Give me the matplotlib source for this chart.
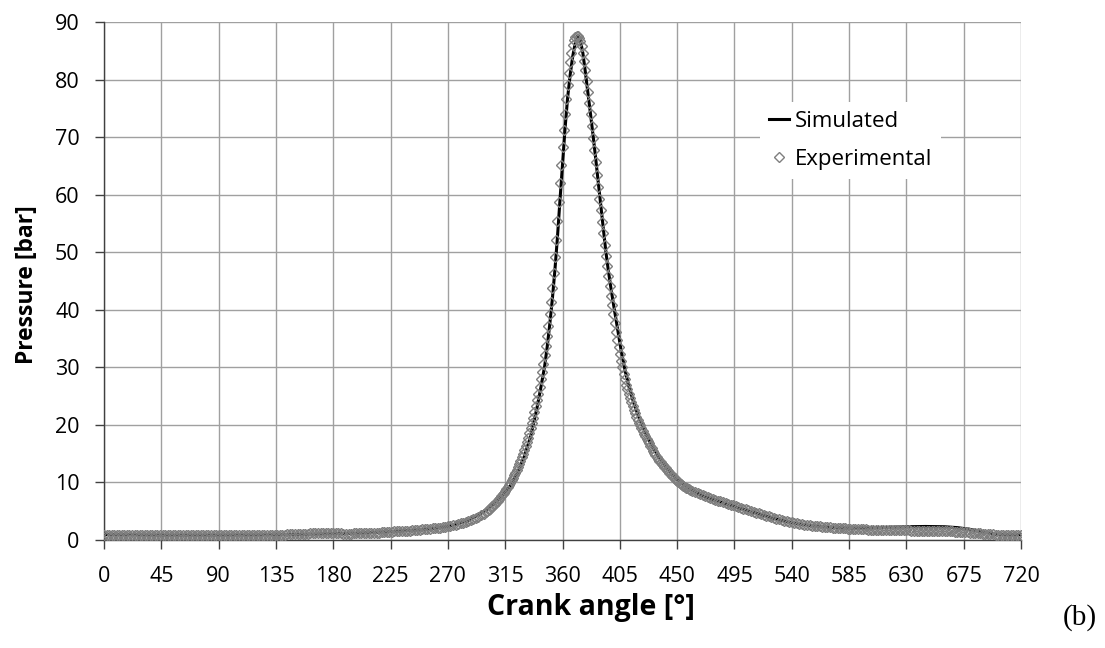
import numpy as np
import matplotlib
matplotlib.use("Agg")
import matplotlib.pyplot as plt
from matplotlib.lines import Line2D

# ---------------- data ----------------
sim_angle = [0, 20, 45, 90, 135, 160, 180, 200, 225, 250,
             270, 285, 295, 300, 305, 310, 315, 320, 325, 330,
             335, 340, 343, 346, 348, 350, 352, 354, 356, 358,
             360, 362, 364, 366, 368, 370, 371, 372, 373, 374,
             376, 378, 380, 382, 384, 386, 388, 390, 392, 394,
             396, 398, 400, 403, 406, 409, 412, 416, 420, 425,
             430, 435, 440, 445, 450, 460, 470, 480, 495, 510,
             525, 540, 555, 570, 585, 600, 615, 630, 645, 660,
             670, 680, 690, 700, 710, 720]
sim_pressure = [0.95, 0.9, 0.85, 0.85, 0.9, 1.0, 1.1, 1.2, 1.45, 1.8,
                2.35, 3.3, 4.5, 5.2, 6.1, 7.1, 8.3, 9.7, 11.8, 14.5,
                18.0, 23.0, 26.5, 30.2, 33.6, 37.5, 41.8, 46.8, 52.5, 59.0,
                65.2, 71.5, 76.8, 80.8, 84.0, 86.3, 87.1, 87.6, 87.4, 86.8,
                84.6, 81.2, 77.6, 74.0, 70.3, 66.4, 62.3, 58.3, 54.2, 50.2,
                46.8, 43.8, 41.0, 37.0, 33.0, 29.6, 26.8, 23.8, 21.3, 18.7,
                16.5, 14.6, 13.1, 11.7, 10.5, 8.8, 7.7, 6.9, 5.8, 4.8,
                3.8, 3.0, 2.5, 2.2, 2.05, 2.1, 2.2, 2.3, 2.35, 2.3,
                2.15, 1.85, 1.4, 1.0, 0.9, 0.9]

# experimental: 0..298 every 2 deg
exp_pressure_a = [
    0.9, 0.9, 0.9, 0.9, 0.9, 0.88, 0.88, 0.87, 0.86, 0.85,
    0.85, 0.84, 0.84, 0.83, 0.83, 0.82, 0.82, 0.82, 0.81, 0.81,
    0.8, 0.8, 0.8, 0.8, 0.8, 0.8, 0.8, 0.8, 0.8, 0.8,
    0.8, 0.8, 0.8, 0.8, 0.8, 0.8, 0.8, 0.8, 0.8, 0.8,
    0.8, 0.8, 0.8, 0.8, 0.8, 0.8, 0.8, 0.8, 0.8, 0.8,
    0.8, 0.8, 0.8, 0.8, 0.81, 0.81, 0.81, 0.82, 0.82, 0.82,
    0.83, 0.83, 0.84, 0.84, 0.85, 0.86, 0.87, 0.88, 0.89, 0.9,
    0.92, 0.94, 0.96, 0.98, 1.0, 1.02, 1.04, 1.06, 1.08, 1.1,
    1.12, 1.14, 1.16, 1.18, 1.19, 1.2, 1.21, 1.22, 1.23, 1.24,
    1.25, 1.26, 1.27, 1.28, 1.1, 1.1, 1.11, 1.12, 1.13, 1.14,
    1.15, 1.16, 1.18, 1.2, 1.22, 1.24, 1.26, 1.28, 1.3, 1.32,
    1.40, 1.42, 1.44, 1.46, 1.48, 1.50, 1.53, 1.56, 1.59, 1.62,
    1.65, 1.68, 1.71, 1.75, 1.79, 1.83, 1.87, 1.91, 1.96, 2.01,
    2.06, 2.11, 2.17, 2.23, 2.30, 2.38, 2.46, 2.55, 2.65, 2.76,
    2.88, 3.01, 3.15, 3.30, 3.47, 3.65, 3.85, 4.07, 4.30, 4.56]
# experimental: 300..460 every 1 deg
exp_pressure_b = [
    4.85, 5.05, 5.25, 5.45, 5.66, 5.88, 6.1, 6.33, 6.57, 6.82,
    7.08, 7.35, 7.63, 7.92, 8.22, 8.54, 8.87, 9.22, 9.58, 9.96,
    10.36, 10.78, 11.22, 11.68, 12.16, 12.67, 13.2, 13.76, 14.35, 14.97,
    15.62, 16.3, 17.02, 17.78, 18.58, 19.42, 20.3, 21.23, 22.2, 23.22,
    24.3, 25.45, 26.65, 27.9, 29.2, 30.6, 32.1, 33.7, 35.4, 37.2,
    39.2, 41.4, 43.8, 46.4, 49.2, 52.2, 55.4, 58.7, 62.0, 65.2,
    68.3, 71.2, 74.0, 76.6, 79.0, 81.2, 83.1, 84.7, 86.0, 86.9,
    87.4, 87.6, 87.6, 87.3, 86.7, 85.8, 84.6, 83.2, 81.6, 79.8,
    77.9, 76.0, 74.0, 71.9, 69.8, 67.7, 65.6, 63.5, 61.4, 59.3,
    57.3, 55.3, 53.3, 51.3, 49.4, 47.6, 45.8, 44.1, 42.4, 40.8,
    39.2, 37.7, 36.2, 34.8, 33.5, 32.3, 31.1, 30.0, 28.9, 27.9,
    27.0, 26.2, 25.4, 24.6, 23.9, 23.2, 22.6, 22.0, 21.4, 20.9,
    20.4, 19.9, 19.4, 18.9, 18.45, 18.0, 17.6, 17.2, 16.8, 16.35,
    15.9, 15.5, 15.15, 14.8, 14.45, 14.1, 13.8, 13.5, 13.2, 12.95,
    12.7, 12.45, 12.2, 11.95, 11.7, 11.45, 11.2, 10.95, 10.7, 10.5,
    10.3, 10.12, 9.94, 9.76, 9.58, 9.4, 9.26, 9.12, 8.98, 8.84, 8.7]
# experimental: 462..720 every 2 deg
exp_pressure_c = [
    8.52, 8.34, 8.16, 7.98, 7.8, 7.64, 7.48, 7.32, 7.16, 7.0,
    6.86, 6.72, 6.58, 6.44, 6.3, 6.15, 6.0, 5.87, 5.73, 5.59,
    5.45, 5.31, 5.17, 5.03, 4.89, 4.75, 4.61, 4.48, 4.35, 4.22,
    4.09, 3.96, 3.84, 3.72, 3.6, 3.49, 3.38, 3.28, 3.18, 3.08,
    2.99, 2.91, 2.83, 2.76, 2.69, 2.62, 2.56, 2.5, 2.45, 2.4,
    2.35, 2.31, 2.27, 2.23, 2.19, 2.16, 2.13, 2.1, 2.07, 2.04,
    2.01, 1.98, 1.96, 1.94, 1.92, 1.9, 1.88, 1.86, 1.84, 1.82,
    1.81, 1.8, 1.79, 1.78, 1.77, 1.76, 1.75, 1.74, 1.73, 1.72,
    1.71, 1.7, 1.69, 1.68, 1.67, 1.66, 1.65, 1.64, 1.63, 1.62,
    1.61, 1.6, 1.59, 1.58, 1.57, 1.56, 1.55, 1.54, 1.53, 1.52,
    1.51, 1.5, 1.48, 1.46, 1.44, 1.42, 1.4, 1.37, 1.34, 1.3,
    1.26, 1.22, 1.18, 1.14, 1.1, 1.06, 1.02, 0.99, 0.96, 0.94,
    0.92, 0.91, 0.9, 0.89, 0.88, 0.87, 0.87, 0.86, 0.86, 0.86]

exp_angle = np.concatenate([np.arange(0, 300, 2), np.arange(300, 461, 1),
                            np.arange(462, 721, 2)])
exp_pressure = np.array(exp_pressure_a + exp_pressure_b + exp_pressure_c)

x_ticks = list(range(0, 721, 45))
y_ticks = list(range(0, 91, 10))

# ---------------- figure ----------------
plt.rcParams['font.family'] = ['Open Sans', 'DejaVu Sans']
fig = plt.figure(figsize=(11.05, 6.48), dpi=100)
ax = fig.add_axes([104/1105, 1-540/648, (1021-104)/1105, (540-22)/648])

mk = dict(linestyle='none', marker='D', markersize=5.0,
          markerfacecolor='none', markeredgecolor='#7f7f7f',
          markeredgewidth=1.0)

ax.plot(sim_angle, sim_pressure, color='black', lw=2.2, zorder=3)
ax.plot(exp_angle, exp_pressure, zorder=4, **mk)

ax.set_xlim(0, 720)
ax.set_ylim(0, 90)
ax.set_xticks(x_ticks)
ax.set_yticks(y_ticks)
ax.grid(True, color='#a0a0a0', lw=1.0)
ax.set_axisbelow(True)
for s in ['top', 'right']:
    ax.spines[s].set_visible(False)
for s in ['left', 'bottom']:
    ax.spines[s].set_color('#404040')
    ax.spines[s].set_linewidth(1.0)
ax.tick_params(axis='both', direction='out', length=6.5, width=1.0,
               color='#404040', labelsize=15.5)
ax.tick_params(axis='x', pad=12)
ax.tick_params(axis='y', pad=11)

fig.text(591/1105, 1-607/648, 'Crank angle [°]', ha='center', va='center',
         fontsize=20.5, fontweight='bold')
fig.text(27/1105, 1-285/648, 'Pressure [bar]', ha='center', va='center',
         rotation=90, fontsize=16.5, fontweight='bold')
fig.text(1080/1105, 1-618/648, '(b)', ha='center', va='center',
         fontsize=21, family=['Liberation Serif', 'DejaVu Serif'])

handles = [Line2D([], [], color='black', lw=2.2), Line2D([], [], **mk)]
leg = ax.legend(handles, ['Simulated', 'Experimental'], loc='upper left',
                bbox_to_anchor=(760/1105, 1-102/648),
                bbox_transform=fig.transFigure, frameon=True, fancybox=False,
                facecolor='white', edgecolor='none', framealpha=1,
                borderpad=0.4, labelspacing=0.76, handlelength=0.9,
                handletextpad=0.25, borderaxespad=0, fontsize=16)

fig.savefig('out.png', dpi=100)
